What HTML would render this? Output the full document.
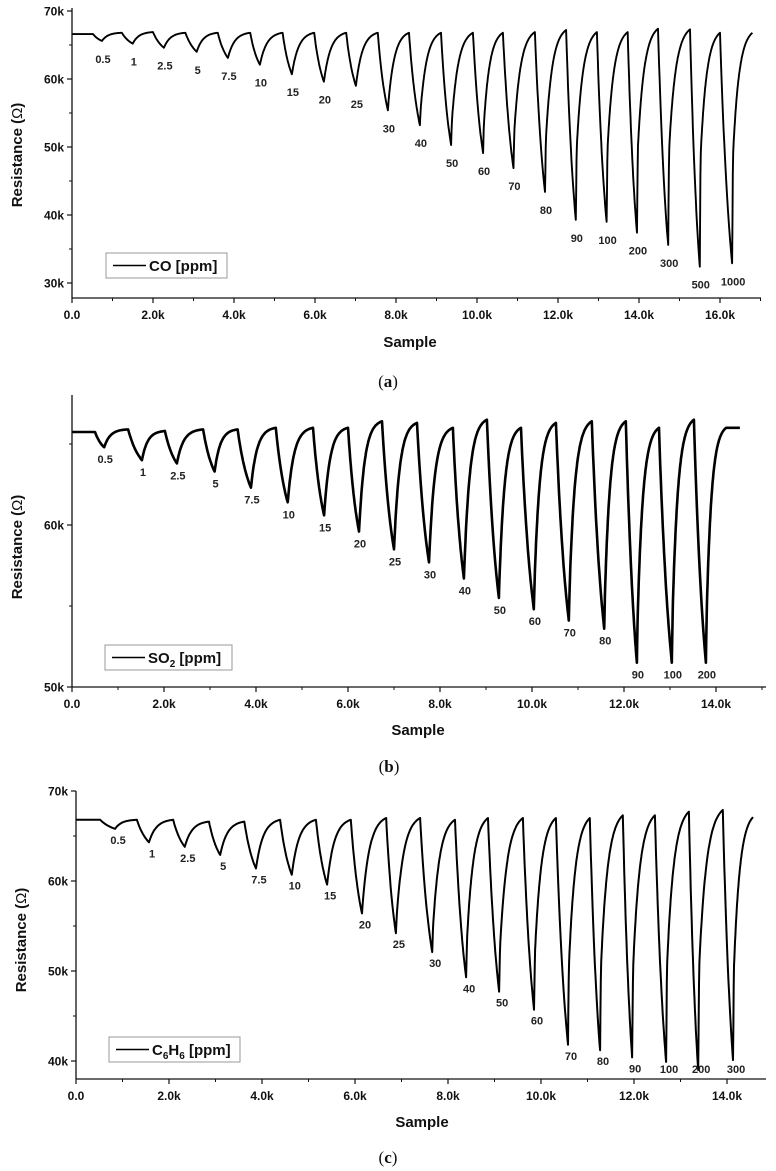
<!DOCTYPE html>
<html><head><meta charset="utf-8"><style>
html,body{margin:0;padding:0;background:#fff;}
svg{display:block;font-family:"Liberation Sans",sans-serif;}
.tk{font-size:12px;font-weight:bold;fill:#111;}
.ttl{font-size:15px;font-weight:bold;fill:#111;}
.pk{font-size:11px;font-weight:bold;fill:#222;}
.cap{font-family:"Liberation Serif",serif;font-size:17px;fill:#111;}
</style></head><body>
<svg id="fig" width="776" height="1171" viewBox="0 0 776 1171" xmlns="http://www.w3.org/2000/svg"></svg>
<script>
// ---------- Panel (a) CO ----------
const aXTicks=[0,2,4,6,8,10,12,14,16];
const aYTicks=[30,40,50,60,70];
const aBase=66.6;
const aPeakX=[0.52,1.23,2.0,2.8,3.6,4.4,5.2,5.98,6.77,7.55,8.32,9.11,9.9,10.64,11.43,12.2,12.96,13.72,14.47,15.26,16.0];
const aPeakV=[66.6,66.8,66.9,66.8,66.8,66.8,66.8,66.8,66.8,66.8,66.8,66.8,66.8,66.8,66.9,67.2,66.9,66.9,67.4,67.3,66.8];
const aMinX=[0.74,1.5,2.27,3.08,3.85,4.64,5.43,6.22,7.01,7.8,8.59,9.36,10.15,10.9,11.68,12.44,13.2,13.95,14.72,15.5,16.3];
const aMinV=[65.6,65.2,64.6,64.0,63.1,62.1,60.7,59.6,59.0,55.4,53.2,50.3,49.1,46.9,43.4,39.3,39.0,37.4,35.6,32.4,32.9];
const aLabels=["0.5","1","2.5","5","7.5","10","15","20","25","30","40","50","60","70","80","90","100","200","300","500","1000"];
const aEndX=[16.8];
const aEndV=[66.8];
// ---------- Panel (b) SO2 ----------
const bXTicks=[0,2,4,6,8,10,12,14];
const bYTicks=[50,60];
const bBase=65.74;
const bPeakX=[0.5,1.22,2.02,2.85,3.6,4.43,5.24,6.0,6.74,7.5,8.28,9.02,9.76,10.52,11.3,12.04,12.76,13.52];
const bPeakV=[65.74,65.9,65.8,65.9,65.9,66.0,66.0,66.0,66.4,66.3,66.0,66.5,66.0,66.3,66.4,66.4,66.0,66.5];
const bMinX=[0.7,1.52,2.28,3.1,3.89,4.69,5.48,6.24,7.0,7.76,8.52,9.28,10.04,10.8,11.57,12.28,13.04,13.78];
const bMinV=[64.8,64.0,63.8,63.3,62.3,61.4,60.6,59.6,58.5,57.7,56.7,55.5,54.8,54.1,53.6,51.5,51.5,51.5];
const bLabels=["0.5","1","2.5","5","7.5","10","15","20","25","30","40","50","60","70","80","90","100","200"];
const bEndX=[14.22,14.52];
const bEndV=[66.0,66.0];
// ---------- Panel (c) C6H6 ----------
const cXTicks=[0,2,4,6,8,10,12,14];
const cYTicks=[40,50,60,70];
const cBase=66.8;
const cPeakX=[0.52,1.31,2.09,2.86,3.62,4.39,5.16,5.91,6.67,7.4,8.15,8.86,9.61,10.32,11.05,11.76,12.45,13.18,13.91];
const cPeakV=[66.8,66.8,66.8,66.6,66.6,66.8,66.8,66.8,67.0,67.0,66.8,67.0,67.0,67.0,67.0,67.3,67.3,67.7,67.9];
const cMinX=[0.84,1.57,2.34,3.1,3.87,4.64,5.4,6.15,6.88,7.66,8.39,9.1,9.85,10.58,11.27,11.96,12.69,13.38,14.13];
const cMinV=[65.8,64.3,63.8,62.9,61.4,60.7,59.6,56.4,54.2,52.1,49.3,47.7,45.7,41.8,41.2,40.4,39.9,39.0,40.1];
const cLabels=["0.5","1","2.5","5","7.5","10","15","20","25","30","40","50","60","70","80","90","100","200","300"];
const cEndX=[14.56];
const cEndV=[67.1];

const NS="http://www.w3.org/2000/svg";
const svg=document.getElementById('fig');
function mk(tag,attrs,parent){const e=document.createElementNS(NS,tag);for(const k in attrs)e.setAttribute(k,attrs[k]);(parent||svg).appendChild(e);return e;}

function buildPath(P){
  const pts=[[0,P.base]];
  const n=P.peakX.length;
  for(let i=0;i<n;i++){
    const px=P.peakX[i],pv=P.peakV[i],mx=P.minX[i],mv=P.minV[i];
    pts.push([px,pv]);
    const k=1.1;
    for(let s=1;s<=20;s++){const u=s/20;const f=(1-Math.exp(-u*k))/(1-Math.exp(-k));pts.push([px+(mx-px)*u,pv-(pv-mv)*f]);}
    const tx=i+1<n?P.peakX[i+1]:P.endX[0];
    const tv=i+1<n?P.peakV[i+1]:P.endV[0];
    const depth=tv-mv;
    const j=0.4*Math.max(0,Math.min(1,(depth-10)/25)),tau=P.tau;
    for(let s=1;s<=60;s++){const t=s/60;const g=j*Math.min(t/0.04,1)+(1-j)*(1-Math.exp(-t/tau))/(1-Math.exp(-1/tau));pts.push([mx+(tx-mx)*t,mv+(tv-mv)*g]);}
  }
  for(let i=1;i<P.endX.length;i++)pts.push([P.endX[i],P.endV[i]]);
  return pts.map((p,i)=>(i?'L':'M')+P.sx(p[0]).toFixed(1)+' '+P.sy(p[1]).toFixed(1)).join(' ');
}

function panel(P){
  const g=mk('g',{});
  
  
  const ya=mk('line',{x1:P.ax,y1:P.yTop,x2:P.ax,y2:P.yBot,stroke:'#111','stroke-width':1.3},g);
  
  
  const xa=mk('line',{x1:P.ax,y1:P.yBot,x2:P.xEnd,y2:P.yBot,stroke:'#111','stroke-width':1.3},g);
  
  
  P.xTicks.forEach(v=>{
    const x=P.sx(v);
    mk('line',{x1:x,y1:P.yBot,x2:x,y2:P.yBot+5,stroke:'#111','stroke-width':1.2},g);
    const mx=P.sx(v+1);
    if(mx<P.xEnd)mk('line',{x1:mx,y1:P.yBot,x2:mx,y2:P.yBot+3,stroke:'#111','stroke-width':1},g);
    const t=mk('text',{x:x,y:P.yBot+21,'text-anchor':'middle',class:'tk'},g);
    t.textContent=v===0?'0.0':v.toFixed(1)+'k';
    
    
  });
  P.yTicks.forEach(v=>{
    const y=P.sy(v);
    mk('line',{x1:P.ax-5,y1:y,x2:P.ax,y2:y,stroke:'#111','stroke-width':1.2},g);
    const my=P.sy(v+5);
    if(my>P.yTop)mk('line',{x1:P.ax-3,y1:my,x2:P.ax,y2:my,stroke:'#111','stroke-width':1},g);
    const t=mk('text',{x:P.ax-8,y:y+4.5,'text-anchor':'end',class:'tk'},g);
    t.textContent=v+'k';
    
    
  });
  const path=mk('path',{d:buildPath(P),fill:'none',stroke:'#000','stroke-width':P.sw,'stroke-linejoin':'round'},g);
  
  
  P.labels.forEach((s,i)=>{
    const y=Math.min(P.sy(P.minV[i])+P.lo,P.labelMax);
    const t=mk('text',{x:P.sx(P.minX[i])+P.lx,y:y+4,'text-anchor':'middle',class:'pk'},g);
    t.textContent=s;
    
    
  });
  const xt=mk('text',{x:P.xtX,y:P.xtY,'text-anchor':'middle',class:'ttl'},g);
  xt.textContent='Sample';
  
  
  const yt=mk('text',{x:0,y:0,'text-anchor':'middle',class:'ttl',transform:'translate('+P.ytX+','+P.ytY+') rotate(-90)'},g);
  yt.innerHTML='Resistance (<tspan style="font-weight:normal">Ω</tspan>)';
  
  
  const lg=mk('g',{},g);
  
  
  mk('rect',{x:P.lgX,y:P.lgY,width:P.lgW,height:25,fill:'#fff',stroke:'#999','stroke-width':1},lg);
  mk('line',{x1:P.lgX+7,y1:P.lgY+12.5,x2:P.lgX+40,y2:P.lgY+12.5,stroke:'#000','stroke-width':1.5},lg);
  const lt=mk('text',{x:P.lgX+43,y:P.lgY+18,class:'ttl'},lg);
  lt.innerHTML=P.legend;
  
  
  const cp=mk('text',{x:P.capX,y:P.capY,'text-anchor':'middle',class:'cap'},g);
  cp.innerHTML=P.cap;
  
  
}

panel({name:'co',base:aBase,peakX:aPeakX,peakV:aPeakV,minX:aMinX,minV:aMinV,endX:aEndX,endV:aEndV,labels:aLabels,
  xTicks:aXTicks,yTicks:aYTicks,tau:0.3,sw:1.9,
  sx:v=>72+v*40.5,sy:v=>11+(70-v)*6.8,ax:72,yTop:8,yBot:298,xEnd:761,lo:18,lx:1,labelMax:290,
  xtX:410,xtY:347,ytX:22,ytY:155,lgX:106,lgY:253,lgW:121,legend:'CO [ppm]',capX:388,capY:387,cap:'(<tspan font-weight="bold">a</tspan>)'});
panel({name:'so2',base:bBase,peakX:bPeakX,peakV:bPeakV,minX:bMinX,minV:bMinV,endX:bEndX,endV:bEndV,labels:bLabels,
  xTicks:bXTicks,yTicks:bYTicks,tau:0.25,sw:2.6,
  sx:v=>72+v*46,sy:v=>687-(v-50)*16.2,ax:72,yTop:395,yBot:687,xEnd:766,lo:12,lx:1,labelMax:676,
  xtX:418,xtY:735,ytX:22,ytY:547,lgX:105,lgY:645,lgW:127,legend:'SO<tspan font-size="10" dy="4">2</tspan><tspan dy="-4"> [ppm]</tspan>',capX:389,capY:772,cap:'(<tspan font-weight="bold">b</tspan>)'});
panel({name:'c6h6',base:cBase,peakX:cPeakX,peakV:cPeakV,minX:cMinX,minV:cMinV,endX:cEndX,endV:cEndV,labels:cLabels,
  xTicks:cXTicks,yTicks:cYTicks,tau:0.3,sw:2.0,
  sx:v=>76+v*46.5,sy:v=>791+(70-v)*9,ax:76,yTop:791,yBot:1079,xEnd:766,lo:11,lx:3,labelMax:1069,
  xtX:422,xtY:1127,ytX:26,ytY:940,lgX:109,lgY:1037,lgW:131,legend:'C<tspan font-size="10" dy="4">6</tspan><tspan dy="-4">H</tspan><tspan font-size="10" dy="4">6</tspan><tspan dy="-4"> [ppm]</tspan>',capX:388,capY:1163,cap:'(<tspan font-weight="bold">c</tspan>)'});
</script>
</body></html>
